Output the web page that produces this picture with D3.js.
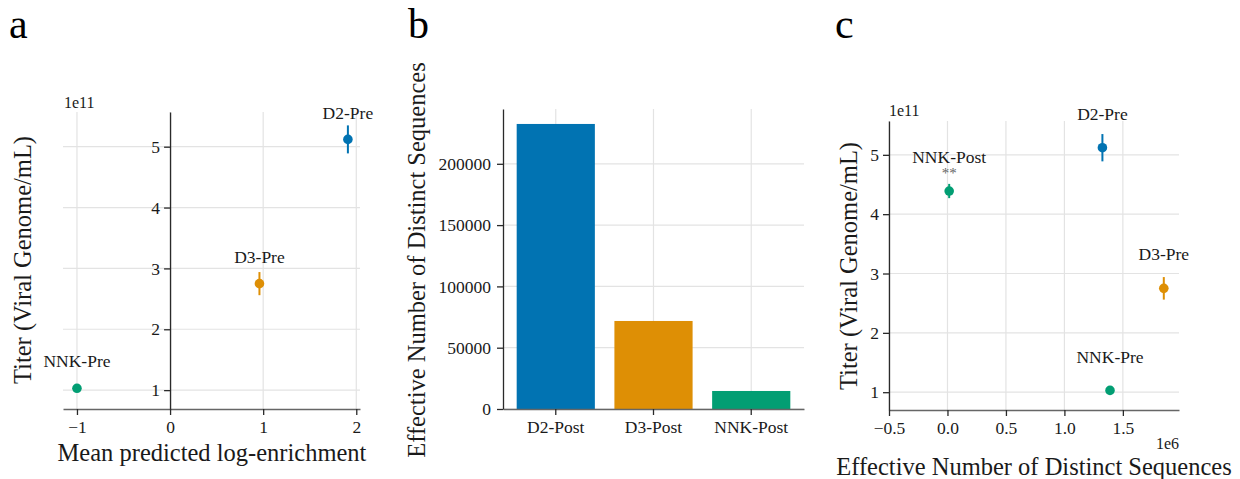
<!DOCTYPE html>
<html>
<head>
<meta charset="utf-8">
<script src="https://cdn.jsdelivr.net/npm/d3@7"></script>
<style>
  body { margin: 0; background: #fff; }
  svg { display: block; font-family: "Liberation Serif", "Times New Roman", serif; }
</style>
</head>
<body>
<div id="chart"></div>
<script>
// --- Data ---
const preGroups = ["D2-Pre", "D3-Pre", "NNK-Pre"];
const preTiter = [5.12e11, 2.75e11, 1.03e11];
const preTiterErr = [0.23e11, 0.19e11, 0.05e11];
const preEnrichment = [1.91, 0.96, -1.0];
const preDistinct = [1.325e6, 1.85e6, 1.39e6];

const postGroups = ["D2-Post", "D3-Post", "NNK-Post"];
const postDistinct = [232500, 71800, 14700];

const nnkPostTiter = 4.39e11;
const nnkPostTiterErr = 0.12e11;

const titerTicks = [1e11, 2e11, 3e11, 4e11, 5e11];
const enrichTicks = [-1, 0, 1, 2];
const distinctTicks = [0, 50000, 100000, 150000, 200000];
const distinctPreTicks = [-0.5e6, 0, 0.5e6, 1e6, 1.5e6];

const colors = { D2: "#0173b2", D3: "#de8f05", NNK: "#029e73" };
const colorOf = name => colors[name.split("-")[0]];

const W = 1240, H = 479;
const svg = d3.select("#chart").append("svg")
  .attr("width", W).attr("height", H);

const gridColor = "#e3e3e3";
const spineColor = "#2a2a2a";

function styleAxis(g, bottom) {
  g.selectAll(".domain").attr("stroke", bottom ? "#666" : spineColor)
    .attr("stroke-width", bottom ? 1.5 : 1.3);
  g.selectAll(".tick line").attr("stroke", spineColor).attr("stroke-width", 1.3);
  g.selectAll("text").attr("fill", "#1a1a1a").style("font-size", "17.5px")
    .style("font-family", "'Liberation Serif', serif");
}

function hGrid(y, x0, x1, ticks) {
  svg.append("g").selectAll("line").data(ticks).enter().append("line")
    .attr("x1", x0).attr("x2", x1)
    .attr("y1", d => y(d)).attr("y2", d => y(d))
    .attr("stroke", gridColor).attr("stroke-width", 1.2);
}
function vGrid(xs, y0, y1) {
  svg.append("g").selectAll("line").data(xs).enter().append("line")
    .attr("x1", d => d).attr("x2", d => d)
    .attr("y1", y0).attr("y2", y1)
    .attr("stroke", gridColor).attr("stroke-width", 1.2);
}

function panelLetter(x, txt) {
  svg.append("text").attr("x", x).attr("y", 38)
    .style("font-size", "42px").attr("fill", "#000").text(txt);
}

function axisLabelX(x, y, txt) {
  svg.append("text").attr("x", x).attr("y", y).attr("text-anchor", "middle")
    .style("font-size", "24.5px").attr("fill", "#1a1a1a").text(txt);
}
function axisLabelY(x, y, txt) {
  svg.append("text").attr("transform", `translate(${x},${y}) rotate(-90)`)
    .attr("text-anchor", "middle").attr("dy", "0.35em")
    .style("font-size", "24.5px").attr("fill", "#1a1a1a").text(txt);
}

function drawPoints(pts, x, y, labelOffset) {
  const g = svg.append("g");
  g.selectAll("line.err").data(pts).enter().append("line")
    .attr("x1", d => x(d.x)).attr("x2", d => x(d.x))
    .attr("y1", d => y(d.y - d.err)).attr("y2", d => y(d.y + d.err))
    .attr("stroke", d => colorOf(d.name)).attr("stroke-width", 2);
  g.selectAll("circle").data(pts).enter().append("circle")
    .attr("cx", d => x(d.x)).attr("cy", d => y(d.y)).attr("r", 4.8)
    .attr("fill", d => colorOf(d.name));
  g.selectAll("text").data(pts).enter().append("text")
    .attr("x", d => x(d.x)).attr("y", d => y(d.y) - labelOffset)
    .attr("dy", "0.35em").attr("text-anchor", "middle")
    .style("font-size", "17.5px").attr("fill", "#1a1a1a")
    .text(d => d.name);
}

const fmt11 = d => d3.format("d")(d / 1e11);

// --- Panel a ---
{
  const x = d3.scaleLinear().domain([-1.15, 2.04]).range([63, 360]);
  const y = d3.scaleLinear().domain([0.69e11, 5.57e11]).range([409, 112]);
  vGrid(enrichTicks.map(x), 112, 409);
  hGrid(y, 63, 360, titerTicks);

  const xa = svg.append("g").attr("transform", "translate(0,409)")
    .call(d3.axisBottom(x).tickValues(enrichTicks).tickSize(6).tickSizeOuter(0)
      .tickPadding(6).tickFormat(d3.format("d")));
  styleAxis(xa, true);
  const ya = svg.append("g").attr("transform", `translate(${x(0)},0)`)
    .call(d3.axisLeft(y).tickValues(titerTicks).tickSize(6).tickSizeOuter(0)
      .tickPadding(4).tickFormat(fmt11));
  styleAxis(ya, false);

  svg.append("text").attr("x", 64).attr("y", 108).style("font-size", "16px")
    .attr("fill", "#1a1a1a").text("1e11");

  const pts = preGroups.map((n, i) => ({ name: n, x: preEnrichment[i], y: preTiter[i], err: preTiterErr[i] }));
  drawPoints(pts, x, y, 27);

  axisLabelX(212, 461, "Mean predicted log-enrichment");
  axisLabelY(22, 260, "Titer (Viral Genome/mL)");
  panelLetter(9, "a");
}

// --- Panel b ---
{
  const x = d3.scaleBand().domain(postGroups).range([503, 804])
    .paddingInner(0.2).paddingOuter(0.14);
  const y = d3.scaleLinear().domain([0, 244700]).range([409, 109]);
  vGrid(postGroups.map(d => x(d) + x.bandwidth() / 2), 109, 409);
  hGrid(y, 503, 804, distinctTicks);

  svg.append("g").selectAll("rect").data(postGroups).enter().append("rect")
    .attr("x", d => x(d)).attr("width", x.bandwidth())
    .attr("y", (d, i) => y(postDistinct[i]))
    .attr("height", (d, i) => y(0) - y(postDistinct[i]))
    .attr("fill", d => colorOf(d));

  const xa = svg.append("g").attr("transform", "translate(0,409)")
    .call(d3.axisBottom(x).tickSize(6).tickSizeOuter(0).tickPadding(6));
  styleAxis(xa, true);
  const ya = svg.append("g").attr("transform", "translate(503,0)")
    .call(d3.axisLeft(y).tickValues(distinctTicks).tickSize(6).tickSizeOuter(0)
      .tickPadding(6).tickFormat(d3.format("d")));
  styleAxis(ya, false);

  axisLabelY(416, 260, "Effective Number of Distinct Sequences");
  panelLetter(408, "b");
}

// --- Panel c ---
{
  const x = d3.scaleLinear().domain([-0.5e6, 1.98e6]).range([889, 1179]);
  const y = d3.scaleLinear().domain([0.70e11, 5.57e11]).range([410, 121]);
  vGrid(distinctPreTicks.map(x), 121, 410);
  hGrid(y, 889, 1179, titerTicks);

  const xa = svg.append("g").attr("transform", "translate(0,410)")
    .call(d3.axisBottom(x).tickValues(distinctPreTicks).tickSize(6).tickSizeOuter(0)
      .tickPadding(6).tickFormat(d => d3.format(".1f")(d / 1e6)));
  styleAxis(xa, true);
  const ya = svg.append("g").attr("transform", "translate(889,0)")
    .call(d3.axisLeft(y).tickValues(titerTicks).tickSize(6).tickSizeOuter(0)
      .tickPadding(4).tickFormat(fmt11));
  styleAxis(ya, false);

  svg.append("text").attr("x", 889).attr("y", 116).style("font-size", "16px")
    .attr("fill", "#1a1a1a").text("1e11");
  svg.append("text").attr("x", 1179).attr("y", 449).attr("text-anchor", "end")
    .style("font-size", "16px").attr("fill", "#1a1a1a").text("1e6");

  const pts = preGroups.map((n, i) => ({ name: n, x: preDistinct[i], y: preTiter[i], err: preTiterErr[i] }));
  pts.push({ name: postGroups[2], x: postDistinct[2], y: nnkPostTiter, err: nnkPostTiterErr });
  drawPoints(pts, x, y, 34);

  // significance marker for NNK-Post
  svg.append("text").attr("x", x(postDistinct[2])).attr("y", y(nnkPostTiter) - 22)
    .attr("dy", "0.6em").attr("text-anchor", "middle")
    .style("font-size", "15px").attr("fill", "#666").text("**");

  axisLabelX(1034, 475, "Effective Number of Distinct Sequences");
  axisLabelY(848, 266, "Titer (Viral Genome/mL)");
  panelLetter(835, "c");
}
</script>
</body>
</html>
